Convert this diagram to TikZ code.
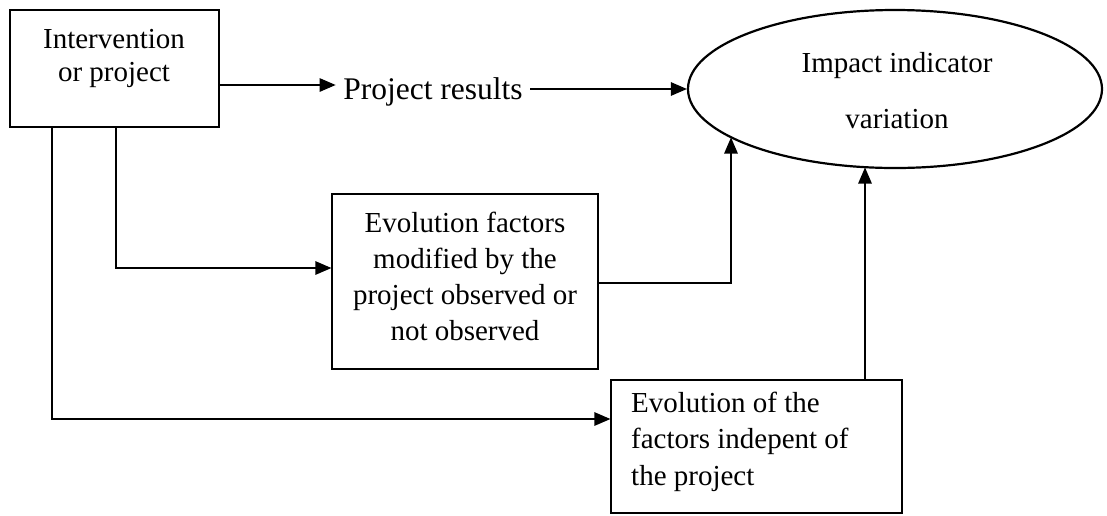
\documentclass[tikz,border=0pt]{standalone}
\usepackage{fontspec}
\setmainfont{Liberation Serif}
\usetikzlibrary{arrows.meta,shapes.geometric}
\tikzset{
  boxnode/.style={draw, line width=1.2pt, inner sep=0pt},
  txt/.style={inner sep=0pt, font=\fontsize{29}{36}\selectfont},
  conn/.style={line width=1.2pt},
  arr/.style={conn, -{Triangle[length=16pt,width=13.5pt]}},
}
\begin{document}
\begin{tikzpicture}[x=1pt,y=-1pt]
\useasboundingbox (0,0) rectangle (1107,515);
% shapes
\node[boxnode, minimum width=209pt, minimum height=117pt] (A) at (114.5,68.5) {};
\node[boxnode, minimum width=266pt, minimum height=175pt] (B) at (465,281.5) {};
\node[boxnode, minimum width=291pt, minimum height=133pt] (C) at (756.5,446.5) {};
\node[draw, ellipse, line width=2.2pt, inner sep=0pt, minimum width=414pt, minimum height=158pt] (E) at (895,89) {};
% texts
\node[txt, align=center, font=\fontsize{29}{33.5}\selectfont] (At) at (114,58.4) {Intervention\\or project};
\node[txt, align=center] (Bt) at (465,276.8) {Evolution factors\\modified by the\\project observed or\\not observed};
\node[txt, align=left, anchor=west, font=\fontsize{29}{36.5}\selectfont] (Ct) at (631,441.8) {Evolution of the\\factors indepent of\\the project};
\node[txt, align=center, font=\fontsize{29}{56}\selectfont] (Et) at (897,90.1) {Impact indicator\\variation};
\node[txt, font=\fontsize{31.5}{36}\selectfont, inner xsep=7.5pt, anchor=base] (PR) at (433,99.5) {Project results};
% connector end points on the ellipse
\coordinate (e1) at (731,137.5);
\coordinate (e2) at (865,167.5);
% connectors
\draw[arr] (A.east |- 0,85) -- (PR.west |- 0,85);
\draw[arr] (PR.east |- E.west) -- (E.west);
\draw[arr] (A.south -| 116,0) |- (B.west |- 0,268);
\draw[arr] (A.south -| 52,0) |- (C.west |- 0,419);
\draw[arr] (B.east |- 0,283) -| (e1);
\draw[arr] (C.north -| e2) -- (e2);
\end{tikzpicture}
\end{document}
